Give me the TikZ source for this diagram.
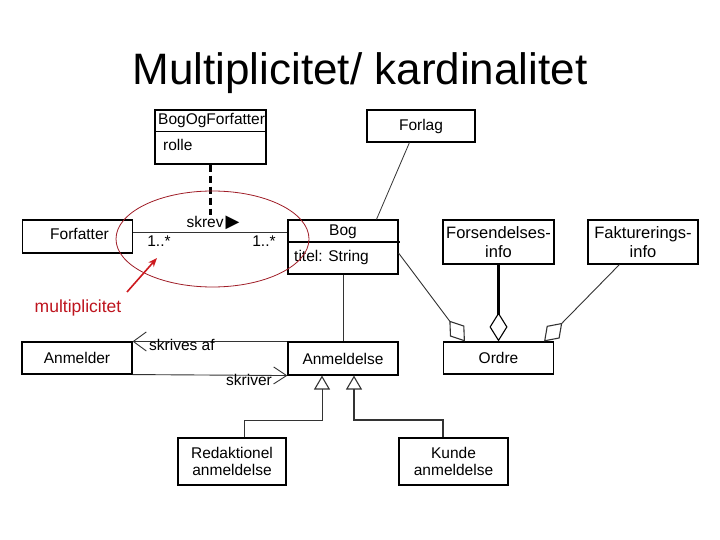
\documentclass[tikz,border=0pt]{standalone}
\usepackage{fontspec}
\setmainfont{Liberation Sans}
\newfontfamily\symfont{DejaVu Sans}
\usetikzlibrary{arrows.meta,calc}
\definecolor{ellred}{RGB}{160,30,40}
\definecolor{arrred}{RGB}{205,25,30}
\definecolor{txtred}{RGB}{190,20,30}
\begin{document}
\begin{tikzpicture}[x=1pt,y=-1pt,
  box/.style={draw, line width=1.1pt, inner sep=0pt, font=\fontsize{15.5}{18}\selectfont, align=center},
  lbl/.style={inner sep=0pt, anchor=base, font=\fontsize{15.5}{18}\selectfont},
  conn/.style={line width=0.9pt, draw=black!80},
  agg/.style={conn, -{Diamond[open, length=26pt, width=18pt, line width=1.1pt]}},
  gen/.style={-{Triangle[open, length=14pt, width=16pt, line width=1.1pt]}},
]
\useasboundingbox (0,0) rectangle (720,540);
\fill[white] (0,0) rectangle (720,540);

% title
\node[inner sep=0pt, anchor=base, font=\fontsize{44}{50}\selectfont] (title) at (360,85) {Multiplicitet/ kardinalitet};

% boxes
\node[box, minimum width=111pt, minimum height=54pt] (bof) at (210.5,137) {};
\draw[line width=1.1pt] ([yshift=-22pt]bof.north west) -- ([yshift=-22pt]bof.north east);
\node[lbl, anchor=west] (bofname) at (158,121) {BogOgForfatter};
\node[lbl, anchor=west] (bofattr) at (163,145) {rolle};

\node[box, minimum width=108pt, minimum height=32pt] (forlag) at (421,126) {Forlag};
\node[box, minimum width=110pt, minimum height=33pt] (forfatter) at (77.5,236.5) {};
\node[lbl, anchor=center] (forfattername) at (79.5,234) {Forfatter};

\node[box, minimum width=110pt, minimum height=54pt] (bog) at (343,247) {};
\draw[line width=2pt] ([yshift=-23pt]bog.north west) -- ([yshift=-23pt,xshift=1pt]bog.north east);
\node[lbl, anchor=center] (bogname) at (343,232) {Bog};
\node[lbl, anchor=west] (bogattr) at (294,257) {titel: String};

\node[box, minimum width=111pt, minimum height=44pt, font=\fontsize{16.5}{19}\selectfont] (forsend) at (498.5,242) {Forsendelses-\\info};
\node[box, minimum width=110pt, minimum height=44pt, font=\fontsize{16.5}{19}\selectfont] (fakt) at (643,242) {Fakturerings-\\info};

\node[box, minimum width=110pt, minimum height=32pt] (anmelder) at (77,358) {Anmelder};
\node[box, minimum width=110pt, minimum height=33pt] (anmeldelse) at (343,358.5) {Anmeldelse};
\node[box, minimum width=110pt, minimum height=32pt] (ordre) at (498.5,358) {Ordre};

\node[box, minimum width=108pt, minimum height=47pt, font=\fontsize{15.5}{17.5}\selectfont] (redak) at (232,461.5) {Redaktionel\\anmeldelse};
\node[box, minimum width=109pt, minimum height=47pt, font=\fontsize{15.5}{17.5}\selectfont] (kunde) at (453.5,461.5) {Kunde\\anmeldelse};

% Forlag - Bog
\draw[conn, line width=0.8pt] ([xshift=43pt]forlag.south west) -- ([xshift=89pt]bog.north west);

% Forfatter - Bog association
\coordinate (ay) at (0,232);
\draw[conn] (forfatter.east |- ay) -- (bog.west |- ay);
\coordinate (skrevtop) at (210.5,215);
\draw[line width=2.2pt, dash pattern=on 7pt off 4pt] (bof.south) -- (skrevtop);
\node[lbl] (skrev) at (213,228) {skrev\hspace{2pt}{\symfont\fontsize{18}{18}\selectfont ▶}};
\node[lbl] (mult1) at (159,247) {1..*};
\node[lbl] (mult2) at (264,247) {1..*};

% red annotation
\draw[ellred, line width=0.8pt] (212.5,239) ellipse [x radius=96.5, y radius=48];
\node[lbl, text=txtred, font=\fontsize{17.5}{20}\selectfont] (multlabel) at (78,312) {multiplicitet};
\coordinate (marrowstart) at (127,292);
\coordinate (marrowtip) at (157,258);
\draw[arrred, line width=1.6pt, -{Stealth[length=9pt,width=7pt]}] (marrowstart) -- (marrowtip);

% Anmelder - Anmeldelse
\draw[conn, {Straight Barb[length=13pt,width=19pt]}-] (anmelder.north east) -- (anmeldelse.north west);
\draw[conn, -{Straight Barb[length=13pt,width=17pt]}] (anmelder.south east) -- (anmeldelse.south west);
\node[lbl, anchor=base west] (skrivesaf) at (149,350) {skrives af};
\node[lbl, anchor=base east] (skriver) at (272,385) {skriver};

% Bog - Anmeldelse
\draw[conn] (bog.south) -- (anmeldelse.north);

% generalization
\coordinate (g1) at (322,420);
\coordinate (g2) at (354,420);
\draw[conn, gen] ([xshift=12pt]redak.north) |- (g1) -- (g1 |- anmeldelse.south);
\draw[conn, line width=2pt, gen] ([xshift=-10.5pt]kunde.north) |- (g2) -- (g2 |- anmeldelse.south);

% aggregations to Ordre
\draw[agg] ([yshift=-6pt]bog.east) -- ([xshift=22pt]ordre.north west);
\draw[conn, line width=2.5pt, draw=black, -{Diamond[open, length=29pt, width=18pt, line width=1.1pt]}] (forsend.south) -- (forsend.south |- ordre.north);
\draw[agg] ([xshift=32pt]fakt.south west) -- ([xshift=-10pt]ordre.north east);
\end{tikzpicture}
\end{document}
